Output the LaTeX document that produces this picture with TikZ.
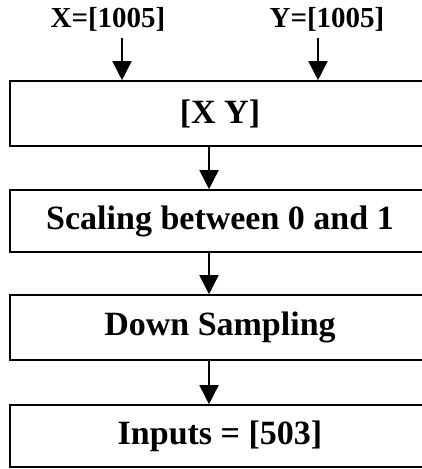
\documentclass[tikz,border=0pt]{standalone}
\usepackage{fontspec}
\setmainfont{Liberation Serif}
\usetikzlibrary{arrows.meta}
\begin{document}
\begin{tikzpicture}[x=1pt,y=-1pt,
  box/.style={draw, line width=1.6pt, minimum width=420pt, inner sep=0pt,
    font=\fontsize{34}{40}\selectfont\bfseries},
  lab/.style={font=\fontsize{29}{34}\selectfont\bfseries, inner sep=0pt},
  arr/.style={line width=1.6pt, -{Triangle[length=19pt,width=19pt]}}]
\useasboundingbox (0,0) rectangle (422,469);
\node[box, minimum height=65pt] (b1) at (220,113.5) {[X Y]};
\node[box, minimum height=62pt] (b2) at (220,221) {Scaling between 0 and 1};
\node[box, minimum height=65pt] (b3) at (220,327.5) {Down Sampling};
\node[box, minimum height=62pt] (b4) at (220,436) {Inputs = [503]};
\node[lab] (lx) at (108,19) {X=[1005]};
\node[lab] (ly) at (327,19) {Y=[1005]};
\coordinate (xs) at (122,38);
\coordinate (ys) at (318,38);
\draw[arr] (xs) -- (xs |- b1.north);
\draw[arr] (ys) -- (ys |- b1.north);
\draw[arr] (b1.south -| 209,0) -- (b2.north -| 209,0);
\draw[arr] (b2.south -| 209,0) -- (b3.north -| 209,0);
\draw[arr] (b3.south -| 209,0) -- (b4.north -| 209,0);
\end{tikzpicture}
\end{document}
